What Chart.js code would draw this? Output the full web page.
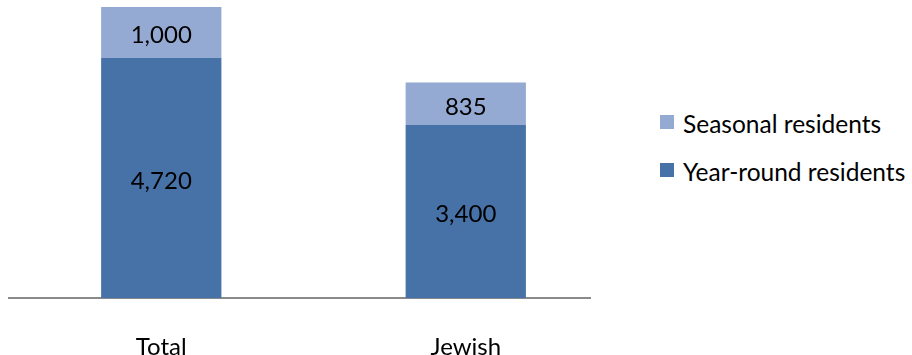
<!DOCTYPE html>
<html>
<head>
<meta charset="utf-8">
<script src="https://cdn.jsdelivr.net/npm/chart.js@4.4.0/dist/chart.umd.min.js"></script>
<style>
  html, body { margin: 0; padding: 0; background: #fff; }
  #wrap { position: relative; width: 912px; height: 355px; overflow: hidden; }
  #myChart { position: absolute; left: 0; top: 0; }
  #legend { position: absolute; left: 660px; top: 109px; font-family: Lato, sans-serif; font-size: 24.5px; color: #000; }
  #legend div { height: 48px; display: flex; align-items: flex-start; white-space: nowrap; }
  #legend span.sw { display: inline-block; width: 14px; height: 14px; margin: 6px 9px 0 0; }
</style>
</head>
<body>
<div id="wrap">
  <canvas id="myChart" width="620" height="355"></canvas>
  <div id="legend"></div>
</div>
<script>
// Data
const categories = ['Total', 'Jewish']
const yearRound = [4720, 3400]
const seasonal = [1000, 835]
const seriesNames = ['Year-round residents', 'Seasonal residents']
const colYear = '#4672A7'
const colSeason = '#95AAD2'

// Legend (seasonal on top like the picture)
const legend = document.getElementById('legend')
;[[seriesNames[1], colSeason], [seriesNames[0], colYear]].forEach(([t, c]) => {
    const d = document.createElement('div')
    d.innerHTML = '<span class="sw" style="background:' + c + '"></span><span>' + t + '</span>'
    legend.appendChild(d)
})

// Value labels in the middle of each segment
const segLabels = {
    id: 'segLabels',
    afterDatasetsDraw(chart) {
        const ctx = chart.ctx
        ctx.save()
        ctx.font = '24px Lato, sans-serif'
        ctx.fillStyle = '#000'
        ctx.textAlign = 'center'
        ctx.textBaseline = 'middle'
        chart.data.datasets.forEach((ds, i) => {
            chart.getDatasetMeta(i).data.forEach((bar, j) => {
                const y = (bar.y + bar.base) / 2 + 3
                ctx.fillText(ds.data[j].y.toLocaleString('en-US'), bar.x, y)
            })
        })
        ctx.restore()
    }
}

// category index -> x position on a linear axis
const toPts = arr => arr.map((v, i) => ({ x: i, y: v }))

const data = {
    datasets: [{
        label: seriesNames[0],
        backgroundColor: colYear,
        data: toPts(yearRound)
    }, {
        label: seriesNames[1],
        backgroundColor: colSeason,
        data: toPts(seasonal)
    }]
}

const config = {
    type: 'bar',
    data: data,
    plugins: [segLabels],
    options: {
        responsive: false,
        animation: false,
        layout: { padding: { top: 7, left: 9, right: 30, bottom: -34 } },
        categoryPercentage: 0.395,
        barPercentage: 1,
        plugins: {
            legend: { display: false },
            tooltip: { enabled: false }
        },
        scales: {
            x: {
                type: 'linear',
                stacked: true,
                offset: false,
                min: -0.5,
                max: 1.408,
                afterBuildTicks: axis => { axis.ticks = categories.map((c, i) => ({ value: i })) },
                grid: { display: false },
                border: { display: true, color: '#8A8A8A', width: 2 },
                ticks: {
                    color: '#000',
                    padding: 27,
                    maxRotation: 0,
                    font: { family: 'Lato, sans-serif', size: 24 },
                    callback: v => categories[v]
                }
            },
            y: {
                stacked: true,
                display: false,
                min: 0,
                max: 5720
            }
        }
    }
}

const ctx = document.getElementById('myChart').getContext('2d')
new Chart(ctx, config)
</script>
</body>
</html>
